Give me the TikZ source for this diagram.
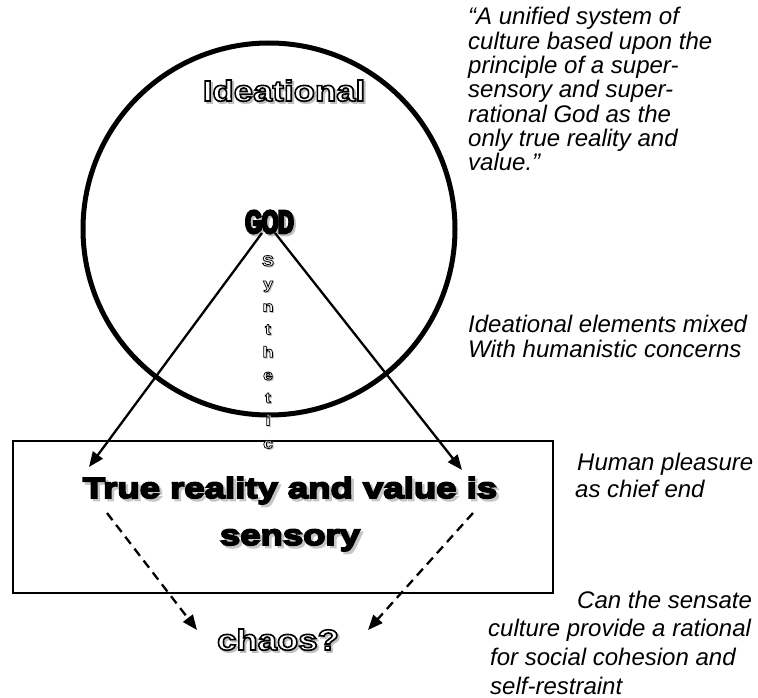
\documentclass[tikz,border=0pt]{standalone}
\usepackage{fontspec}
\usetikzlibrary{arrows.meta}
\setmainfont{Liberation Sans}
% heavy display faces built from Liberation Sans Bold (FakeBold strokes the glyph edges)
\newfontfamily\heavyfont{Liberation Sans}[UprightFont=* Bold, FakeStretch=1.26, FakeBold=6]
\newfontfamily\hollowfont{Liberation Sans}[UprightFont=* Bold, FakeStretch=1.2, FakeBold=5.5]
\newfontfamily\hollowsmallfont{Liberation Sans}[UprightFont=* Bold, FakeStretch=1.2, FakeBold=5]
\newfontfamily\impactfont{Liberation Sans}[UprightFont=* Bold, FakeStretch=0.66, FakeBold=8]
% black stroke on white-filled glyphs gives hollow letters
\newcommand\rim{\special{pdf:literal direct 0 G}}
\tikzset{
  note/.style={font=\fontsize{24}{26}\selectfont\itshape, anchor=base west, inner sep=0pt},
  heavy/.style={font=\heavyfont\fontsize{29}{35}\selectfont, anchor=base, inner sep=0pt},
  hollowbig/.style={font=\hollowfont\fontsize{29}{35}\selectfont, anchor=base, inner sep=0pt, text=white},
  hollowsmall/.style={font=\hollowsmallfont\fontsize{15}{18}\selectfont, anchor=base, inner sep=0pt, text=white},
  godtext/.style={font=\impactfont\fontsize{32}{36}\selectfont, anchor=base, inner sep=0pt},
  dropshade/.style={xshift=2pt, yshift=-2pt, text=gray!50},
  heavyshade/.style={xshift=2.6pt, yshift=-2.6pt, text=gray!45},
  link/.style={line width=2.3pt, -{Triangle[length=15pt,width=12pt]}},
  guess/.style={link, dash pattern=on 9pt off 6pt},
}
\begin{document}
\begin{tikzpicture}[x=1pt,y=-1pt]
\useasboundingbox (0,0) rectangle (758,698);

% the ideational sphere and the sensate box
\node[circle, draw, line width=5pt, minimum size=372pt, inner sep=0pt] (sphere) at (269,229) {};
\node[draw, line width=2pt, minimum width=540pt, minimum height=152pt, inner sep=0pt] (sensebox) at (283,517) {};

% title of the sphere
\node[hollowbig, dropshade] (idealshade) at (284,101) {Ideational};
\node[hollowbig] (ideal) at (284,101) {\rim Ideational};

% GOD at the centre
\node[godtext, dropshade] (godshade) at (269.5,233) {GOD};
\node[godtext] (god) at (269.5,233) {GOD};

% arrow end points
\coordinate (tipL) at (89,467);
\coordinate (tipR) at (462,470);
\coordinate (dL0) at (107,513);
\coordinate (dL1) at (197,630);
\coordinate (dR0) at (473,513);
\coordinate (dR1) at (368,630);

\draw[link] ([xshift=-7.5pt]god.base) -- (tipL);
\draw[link] ([xshift=5.5pt]god.base) -- (tipR);

% text of the box
\node[heavy, heavyshade] (truthshade) at (290,498) {True reality and value is};
\node[heavy] (truth) at (290,498) {True reality and value is};
\node[heavy, heavyshade] (sensoryshade) at (290,545) {sensory};
\node[heavy] (sensory) at (290,545) {sensory};

% dashed arrows toward chaos
\draw[guess] (dL0) -- (dL1);
\draw[guess] (dR0) -- (dR1);

\node[hollowbig, dropshade] (chaosshade) at (278,650) {chaos?};
\node[hollowbig] (chaos) at (278,650) {\rim chaos?};

% vertical word down the middle
\foreach \l [count=\i] in {S,y,n,t,h,e,t,i,c} {
  \node[hollowsmall, dropshade, xshift=-1pt, yshift=1pt] (synshade\i) at (268,{266+22.8*(\i-1)}) {\l};
  \node[hollowsmall] (syn\i) at (268,{266+22.8*(\i-1)}) {\rim\l};
}

% side notes
\foreach \t [count=\i] in {{“A unified system of},{culture based upon the},{principle of a super-},{sensory and super-},{rational God as the},{only true reality and},{value.”}} {
  \node[note] (quote\i) at (468,{25+24.3*(\i-1)}) {\t};
}
\node[note] (mixed1) at (468,332) {Ideational elements mixed};
\node[note] (mixed2) at (468,357) {With humanistic concerns};
\node[note] (pleasure1) at (577,470) {Human pleasure};
\node[note] (pleasure2) at (575,497) {as chief end};
\node[note] (ask1) at (577,608) {Can the sensate};
\node[note] (ask2) at (488,636) {culture provide a rational};
\node[note] (ask3) at (490,665) {for social cohesion and};
\node[note] (ask4) at (490,694) {self-restraint};
\end{tikzpicture}
\end{document}
